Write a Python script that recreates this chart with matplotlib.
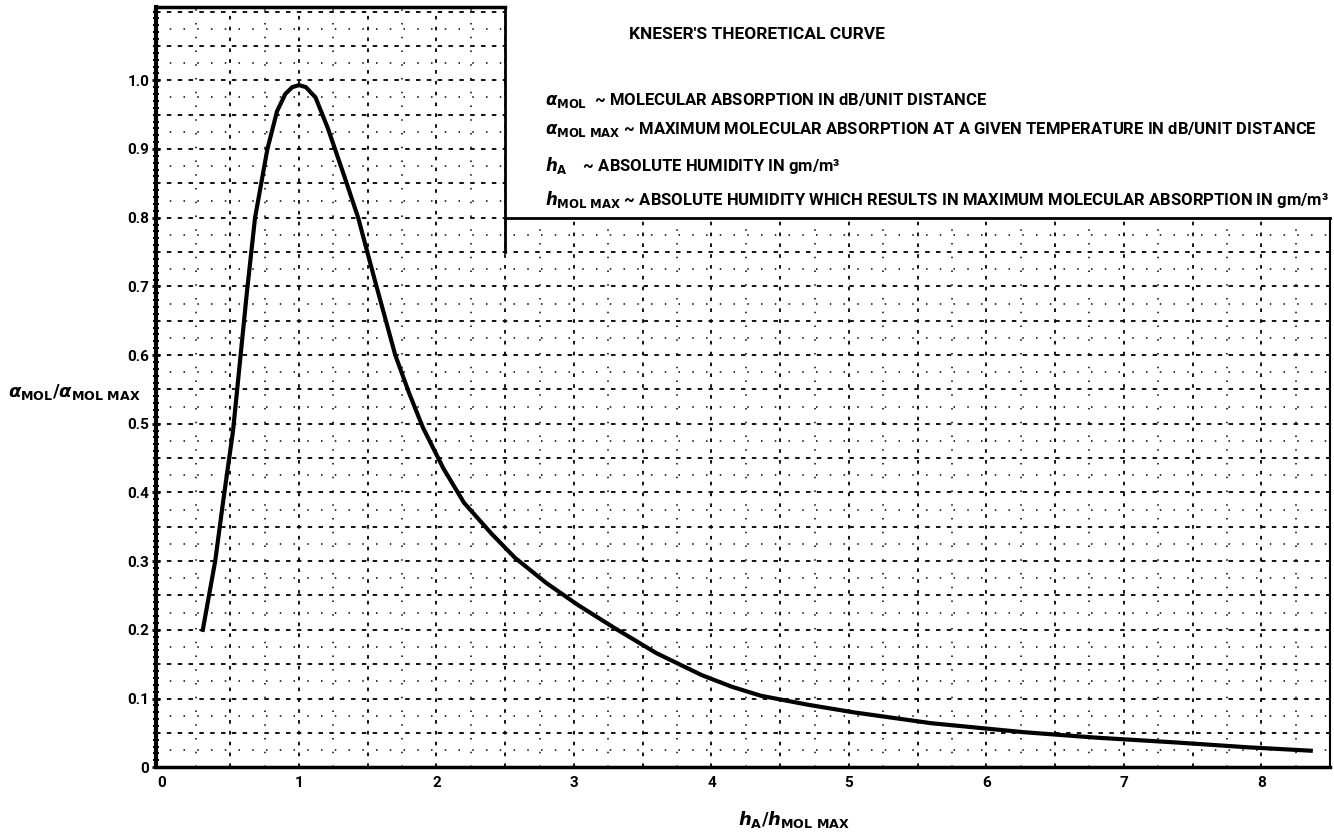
import numpy as np
import matplotlib.pyplot as plt
from matplotlib.patches import Rectangle
from matplotlib.ticker import MultipleLocator

# curve: h_A/h_MOL MAX  vs  alpha_MOL/alpha_MOL MAX
h_ratio = [0.30, 0.39, 0.45, 0.52, 0.58, 0.62, 0.68, 0.77, 0.84, 0.90, 0.95,
           1.00, 1.05, 1.12, 1.21, 1.33, 1.43, 1.55, 1.70, 1.80, 1.90, 2.05, 2.20,
           2.40, 2.57, 2.80, 3.03, 3.30, 3.60, 3.93, 4.15, 4.36, 4.70, 5.03,
           5.60, 6.27, 6.80, 7.38, 7.90, 8.36]
alpha_ratio = [0.20, 0.30, 0.39, 0.49, 0.61, 0.69, 0.80, 0.90, 0.955, 0.98, 0.99,
               0.993, 0.99, 0.975, 0.93, 0.86, 0.80, 0.71, 0.60, 0.545, 0.495, 0.435, 0.385,
               0.340, 0.305, 0.268, 0.236, 0.202, 0.166, 0.134, 0.117, 0.104, 0.091, 0.080,
               0.064, 0.051, 0.043, 0.036, 0.029, 0.024]

x_ticks = [0, 1, 2, 3, 4, 5, 6, 7, 8]
y_ticks = [0, 0.1, 0.2, 0.3, 0.4, 0.5, 0.6, 0.7, 0.8, 0.9, 1.0]
y_tick_labels = ['0', '0.1', '0.2', '0.3', '0.4', '0.5', '0.6', '0.7', '0.8', '0.9', '1.0']

title_text = "KNESER'S THEORETICAL CURVE"
legend_lines = [
    r'$\alpha_{\rm MOL}$  ~ MOLECULAR ABSORPTION IN dB/UNIT DISTANCE',
    r'$\alpha_{\rm MOL\ MAX}$ ~ MAXIMUM MOLECULAR ABSORPTION AT A GIVEN TEMPERATURE IN dB/UNIT DISTANCE',
    r'$h_{\rm A}$    ~ ABSOLUTE HUMIDITY IN gm/m³',
    r'$h_{\rm MOL\ MAX}$ ~ ABSOLUTE HUMIDITY WHICH RESULTS IN MAXIMUM MOLECULAR ABSORPTION IN gm/m³',
]
legend_y = [0.971, 0.928, 0.876, 0.826]

plt.rcParams['font.family'] = ['Roboto', 'DejaVu Sans']
plt.rcParams['font.weight'] = 'bold'

fig = plt.figure(figsize=(13.34, 8.33), dpi=100)
ax = fig.add_axes([0.117, 0.079, 0.88, 0.912])
x_max = 8.5
y_max = 1.106
ax.set_xlim(-0.04, x_max)
ax.set_ylim(0, y_max)

# graph paper grid
for gx in np.arange(0.5, x_max, 0.5):
    ax.axvline(gx, color='black', lw=1.3, ls=(0, (2, 4)), zorder=0.5)
for gx in np.arange(0.25, x_max, 0.5):
    ax.axvline(gx, color='black', lw=1.1, ls=(0, (1, 8)), zorder=0.5)
for gy in np.arange(0.05, y_max, 0.05):
    ax.axhline(gy, color='black', lw=1.3, ls=(0, (2.5, 3.5)), zorder=0.5)
for gy in np.arange(0.025, y_max, 0.05):
    ax.axhline(gy, color='black', lw=1.1, ls=(0, (1, 8)), zorder=0.5)

# blank legend area in the upper right
ax.add_patch(Rectangle((2.5, 0.8), x_max - 2.5, y_max - 0.8, facecolor='white',
                       edgecolor='none', zorder=1))

ax.plot(h_ratio, alpha_ratio, color='black', lw=3, zorder=3)

# frame
for s in ['top', 'right']:
    ax.spines[s].set_visible(False)
ax.spines['left'].set_linewidth(3)
ax.spines['bottom'].set_linewidth(2.5)
ax.plot([-0.04, 2.5], [y_max, y_max], color='black', lw=2.5, clip_on=False, zorder=4)
ax.plot([2.5, 2.5], [0.75, y_max], color='black', lw=2, clip_on=False, zorder=4)
ax.plot([2.5, x_max], [0.8, 0.8], color='black', lw=2, clip_on=False, zorder=4)
ax.plot([x_max, x_max], [0, 0.8], color='black', lw=1.5, clip_on=False, zorder=4)

ax.set_xticks(x_ticks)
ax.set_yticks(y_ticks)
ax.set_yticklabels(y_tick_labels)
ax.yaxis.set_minor_locator(MultipleLocator(0.01))
ax.tick_params(axis='y', which='major', direction='inout', length=6, width=2, labelsize=11, pad=2)
ax.tick_params(axis='y', which='minor', direction='inout', length=4, width=1.5)
ax.tick_params(axis='x', which='major', direction='in', length=0, labelsize=11, pad=6)

ax.text(3.4, 1.066, title_text, fontsize=12.5, va='center', ha='left', zorder=5)
for line, ly in zip(legend_lines, legend_y):
    ax.text(2.79, ly, line, fontsize=12, va='center', ha='left', zorder=5)

fig.text(0.006, 0.53, r'$\alpha_{\rm MOL}/\alpha_{\rm MOL\ MAX}$', fontsize=13, va='center')
fig.text(0.553, 0.016, r'$h_{\rm A}/h_{\rm MOL\ MAX}$', fontsize=13, va='center')

fig.savefig('out.png', dpi=100)
